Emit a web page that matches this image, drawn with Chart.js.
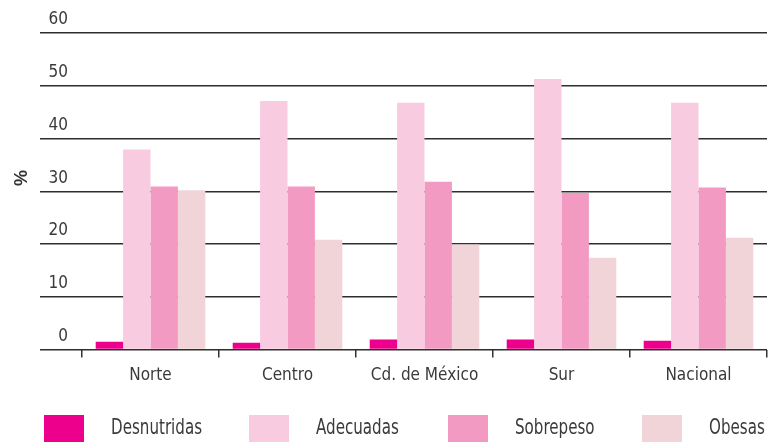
<!DOCTYPE html>
<html>
<head>
<meta charset="utf-8">
<script src="https://cdn.jsdelivr.net/npm/chart.js@4"></script>
<style>
  html, body { margin: 0; padding: 0; background: #fff; }
  #wrap { position: relative; width: 773px; height: 443px; }
  #c { position: absolute; left: 0; top: 0; }
  .ytitle { position: absolute; left: 11px; top: 168px; width: 20px; height: 20px;
    font: bold 18px "Liberation Sans", Arial, sans-serif; color: #333;
    transform: rotate(-90deg); text-align: center; line-height: 20px; }
  .lg { position: absolute; top: 415px; height: 27px; }
  .lg .box { position: absolute; left: 0; top: 0; width: 40px; height: 27px; }
  .lg .txt { position: absolute; left: 67px; top: 0; height: 27px; line-height: 27px; white-space: nowrap;
    font: 21px "DejaVu Sans Condensed", sans-serif; color: #3a3a3a;
    transform: scaleX(0.8); transform-origin: 0 50%; }
</style>
</head>
<body>
<div id="wrap">
  <canvas id="c" width="773" height="443"></canvas>
  <div class="ytitle">%</div>
  <div id="legend"></div>
</div>
<script>
const categories = ["Norte", "Centro", "Cd. de México", "Sur", "Nacional"];
const seriesNames = ["Desnutridas", "Adecuadas", "Sobrepeso", "Obesas"];
const desnutridas = [1.5, 1.3, 1.9, 1.9, 1.7];
const adecuadas = [37.9, 47.1, 46.8, 51.3, 46.8];
const sobrepeso = [30.9, 30.9, 31.8, 29.7, 30.7];
const obesas = [30.2, 20.8, 19.9, 17.4, 21.2];
const yTicks = [0, 10, 20, 30, 40, 50, 60];

const colors = ["#ec008c", "#f8cbe0", "#f39ac3", "#f1d4d7"];
const fontFam = '"DejaVu Sans Condensed", sans-serif';
const allSeries = [desnutridas, adecuadas, sobrepeso, obesas];

const chart = new Chart(document.getElementById('c'), {
  type: 'bar',
  data: {
    labels: categories,
    datasets: seriesNames.map((n, i) => ({
      label: n,
      data: allSeries[i],
      backgroundColor: colors[i],
      borderWidth: 0,
      categoryPercentage: 0.8,
      barPercentage: 1.0
    }))
  },
  options: {
    responsive: false,
    animation: false,
    layout: { padding: { top: 33, right: 6, bottom: 49, left: 0 } },
    plugins: { legend: { display: false }, tooltip: { enabled: false } },
    scales: {
      x: {
        offset: true,
        grid: { display: true, drawOnChartArea: false, drawTicks: true, tickLength: 8, color: '#333', lineWidth: 1.5, offset: true },
        border: { display: false },
        ticks: { color: '#3a3a3a', font: { family: fontFam, size: 17 }, padding: 8, maxRotation: 0 }
      },
      y: {
        min: 0, max: 60,
        afterBuildTicks: (s) => { s.ticks = yTicks.map(v => ({ value: v })); },
        afterFit: (s) => { s.width = 82; },
        grid: { color: '#2e2e2e', lineWidth: 1.6, tickLength: 42, drawTicks: true },
        border: { display: false },
        ticks: { color: '#3a3a3a', font: { family: fontFam, size: 17 }, padding: -28, labelOffset: -13 }
      }
    }
  }
});

const legendLeft = [44, 249, 448, 642];
const lg = document.getElementById('legend');
seriesNames.forEach((n, i) => {
  const d = document.createElement('div');
  d.className = 'lg';
  d.style.left = legendLeft[i] + 'px';
  const b = document.createElement('div');
  b.className = 'box';
  b.style.background = colors[i];
  const t = document.createElement('span');
  t.className = 'txt';
  t.textContent = n;
  d.appendChild(b); d.appendChild(t);
  lg.appendChild(d);
});
</script>
</body>
</html>
